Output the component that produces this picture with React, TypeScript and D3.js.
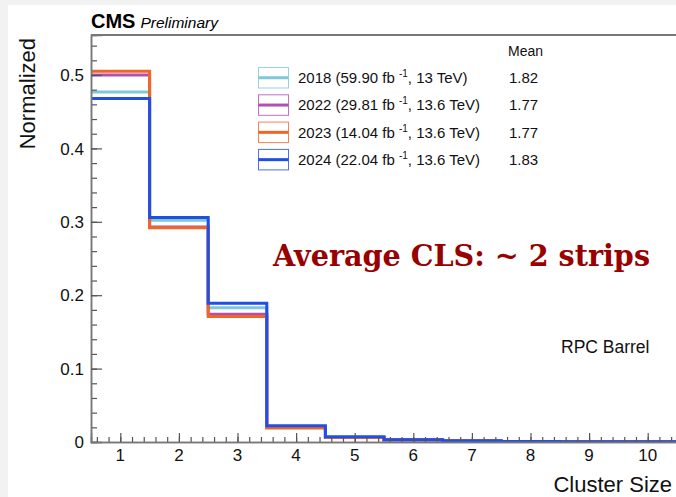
import React, { useRef, useEffect } from 'react';
import * as d3 from 'd3';

const width = 676;
const height = 497;
const margin = { left: 91, top: 35, right: 677, bottom: 442 };

const clusterSizes = [1, 2, 3, 4, 5, 6, 7, 8, 9, 10];
const xTickLabels = ['1', '2', '3', '4', '5', '6', '7', '8', '9', '10'];
const yTickValues = [0, 0.1, 0.2, 0.3, 0.4, 0.5];

const years = ['2018', '2022', '2023', '2024'];
const lumis = ['59.90', '29.81', '14.04', '22.04'];
const energies = ['13', '13.6', '13.6', '13.6'];
const means = ['1.82', '1.77', '1.77', '1.83'];

const values2018 = [0.477, 0.302, 0.183, 0.020, 0.006, 0.003, 0.0015, 0.0008, 0.0005, 0.0003];
const values2022 = [0.500, 0.293, 0.174, 0.020, 0.006, 0.003, 0.0015, 0.0008, 0.0005, 0.0003];
const values2023 = [0.505, 0.292, 0.171, 0.019, 0.006, 0.0028, 0.0014, 0.0008, 0.0005, 0.0003];
const values2024 = [0.468, 0.306, 0.189, 0.022, 0.007, 0.003, 0.0016, 0.0008, 0.0005, 0.0003];

const seriesValues = [values2018, values2022, values2023, values2024];
const colors = ['#7ec8da', '#b24fb4', '#f26524', '#1f4fe6'];

const x = d3.scaleLinear().domain([0.5, 10.5]).range([margin.left, margin.right]);
const y = d3.scaleLinear().domain([0, 0.5545]).range([margin.bottom, margin.top]);

const font = 'Liberation Sans, Arial, Helvetica, sans-serif';

export default function App() {
    const svgRef = useRef(null);

    useEffect(() => {
        const svg = d3.select(svgRef.current);
        svg.selectAll('*').remove();

        svg.append('rect').attr('width', width).attr('height', height).attr('fill', '#f2f2f2');
        svg.append('rect').attr('x', 8).attr('y', 5).attr('width', width).attr('height', height).attr('fill', '#fff');

        svg.append('clipPath').attr('id', 'plot-clip')
            .append('rect')
            .attr('x', margin.left).attr('y', margin.top - 5)
            .attr('width', margin.right - margin.left).attr('height', margin.bottom - margin.top + 5);

        // histograms
        const line = d3.line<[number, number]>()
            .x(d => x(d[0]))
            .y(d => y(d[1]))
            .curve(d3.curveStepAfter);

        const plot = svg.append('g').attr('clip-path', 'url(#plot-clip)');
        seriesValues.forEach((vals, i) => {
            const pts: [number, number][] = vals.map((v, k) => [clusterSizes[k] - 0.5, v]);
            pts.push([clusterSizes[vals.length - 1] + 0.5, vals[vals.length - 1]]);
            plot.append('path')
                .attr('d', line(pts))
                .attr('fill', 'none')
                .attr('stroke', colors[i])
                .attr('stroke-width', 3);
        });

        // frame
        const axisColor = '#777';
        svg.append('line').attr('x1', margin.left).attr('x2', width).attr('y1', margin.top).attr('y2', margin.top)
            .attr('stroke', axisColor).attr('stroke-width', 2);

        // y axis
        const yMinor = d3.range(0, 0.555, 0.02);
        const yAxisMajor = d3.axisRight(y).tickValues(yTickValues).tickSize(11).tickFormat(() => '');
        const yAxisMinor = d3.axisRight(y).tickValues(yMinor).tickSize(6).tickFormat(() => '');
        [yAxisMinor, yAxisMajor].forEach(ax => {
            const g = svg.append('g').attr('transform', `translate(${margin.left},0)`).call(ax);
            g.select('.domain').attr('stroke', axisColor).attr('stroke-width', 1.5);
            g.selectAll('.tick line').attr('stroke', '#555').attr('stroke-width', 1.2);
        });
        svg.append('g').selectAll('text').data(yTickValues).join('text')
            .attr('x', margin.left - 7).attr('y', d => y(d)).attr('dy', '0.36em')
            .attr('text-anchor', 'end').attr('font-family', font).attr('font-size', 17).attr('fill', '#111')
            .text(d => d === 0 ? '0' : d3.format('.1f')(d));

        // x axis
        const xMinor = d3.range(0.6, 10.6, 0.2);
        const xAxisMajor = d3.axisTop(x).tickValues(clusterSizes).tickSize(9).tickFormat(() => '');
        const xAxisMinor = d3.axisTop(x).tickValues(xMinor).tickSize(5).tickFormat(() => '');
        [xAxisMinor, xAxisMajor].forEach(ax => {
            const g = svg.append('g').attr('transform', `translate(0,${margin.bottom})`).call(ax);
            g.select('.domain').attr('stroke', axisColor).attr('stroke-width', 1.5);
            g.selectAll('.tick line').attr('stroke', '#555').attr('stroke-width', 1.2);
        });
        svg.append('g').selectAll('text').data(clusterSizes).join('text')
            .attr('x', d => x(d)).attr('y', margin.bottom + 19)
            .attr('text-anchor', 'middle').attr('font-family', font).attr('font-size', 17).attr('fill', '#111')
            .text((d, i) => xTickLabels[i]);

        // axis titles
        svg.append('text')
            .attr('transform', 'translate(35,38) rotate(-90)')
            .attr('text-anchor', 'end').attr('font-family', font).attr('font-size', 22).attr('fill', '#111')
            .text('Normalized');
        svg.append('text')
            .attr('x', 672).attr('y', 492)
            .attr('text-anchor', 'end').attr('font-family', font).attr('font-size', 22).attr('fill', '#111')
            .text('Cluster Size');

        // CMS label
        const cms = svg.append('text').attr('x', 91).attr('y', 28).attr('font-family', font).attr('fill', '#000');
        cms.append('tspan').attr('font-weight', 'bold').attr('font-size', 20).text('CMS');
        cms.append('tspan').attr('font-style', 'italic').attr('font-size', 15.5).attr('dx', 5).text('Preliminary');

        // legend
        svg.append('text').attr('x', 508).attr('y', 56).attr('font-family', font).attr('font-size', 14)
            .attr('fill', '#111').text('Mean');
        years.forEach((yr, i) => {
            const top = 67 + i * 27.3;
            const g = svg.append('g');
            g.append('rect').attr('x', 258.5).attr('y', top + 0.5).attr('width', 30).attr('height', 20.5)
                .attr('fill', 'none').attr('stroke', colors[i]).attr('stroke-width', 1).attr('opacity', 0.8);
            g.append('line').attr('x1', 258.5).attr('x2', 288.5).attr('y1', top + 10.75).attr('y2', top + 10.75)
                .attr('stroke', colors[i]).attr('stroke-width', 3);
            const t = g.append('text').attr('x', 298).attr('y', top + 16).attr('font-family', font)
                .attr('font-size', 15).attr('fill', '#111');
            t.append('tspan').text(`${yr} (${lumis[i]} fb `);
            t.append('tspan').attr('font-size', 10).attr('dy', -6).text('-1');
            t.append('tspan').attr('dy', 6).text(`, ${energies[i]} TeV)`);
            g.append('text').attr('x', 509).attr('y', top + 16).attr('font-family', font)
                .attr('font-size', 15).attr('fill', '#111').text(means[i]);
        });

        // annotations
        svg.append('text').attr('x', 273).attr('y', 266)
            .attr('font-family', 'DejaVu Serif, serif').attr('font-weight', 'bold').attr('font-size', 29)
            .attr('textLength', 377).attr('lengthAdjust', 'spacingAndGlyphs')
            .attr('fill', '#990000').text('Average CLS: ~ 2 strips');
        svg.append('text').attr('x', 561).attr('y', 353).attr('font-family', font).attr('font-size', 17.5)
            .attr('fill', '#111').text('RPC Barrel');
    }, []);

    return (
        <svg ref={svgRef} width={width} height={height}
            style={{ position: 'fixed', left: 0, top: 0, display: 'block' }} />
    );
}
